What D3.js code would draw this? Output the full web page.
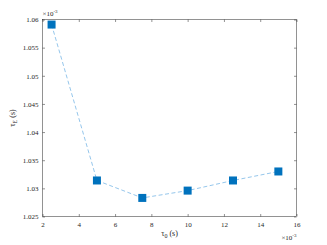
<!DOCTYPE html>
<html>
<head>
<meta charset="utf-8">
<script src="https://cdn.jsdelivr.net/npm/d3@7"></script>
<style>
  body { margin: 0; background: #fff; }
  svg text { font-family: 'Liberation Serif', 'Times New Roman', Times, serif !important; fill: #262626; }
</style>
</head>
<body>
<svg width="327" height="245"></svg>
<script>
// data (x in 1e-3 s, y in 1e-3 s)
const tau0 = [2.5, 5, 7.5, 10, 12.5, 15];
const tauE = [1.0591, 1.0314, 1.0283, 1.0296, 1.0314, 1.0330];
const xTicks = [2, 4, 6, 8, 10, 12, 14, 16];
const yTicks = [1.025, 1.03, 1.035, 1.04, 1.045, 1.05, 1.055, 1.06];

const svg = d3.select('svg');
const m = { left: 42.5, right: 296.5, top: 19.5, bottom: 216.5 };

const x = d3.scaleLinear().domain([2, 16]).range([m.left, m.right]);
const y = d3.scaleLinear().domain([1.025, 1.06]).range([m.bottom, m.top]);

const axisColor = '#262626';
const fs = 7;

// box
svg.append('rect')
  .attr('x', m.left).attr('y', m.top)
  .attr('width', m.right - m.left).attr('height', m.bottom - m.top)
  .attr('fill', 'none').attr('stroke', axisColor).attr('stroke-width', 0.5);

// axes (ticks inside)
const fmtY = (d) => d3.format('.3~f')(d);
svg.append('g')
  .attr('transform', `translate(0,${m.bottom})`)
  .call(d3.axisBottom(x).tickValues(xTicks).tickSizeInner(-2.5).tickSizeOuter(0).tickPadding(6))
  .call((g) => g.select('.domain').remove());
svg.append('g')
  .attr('transform', `translate(0,${m.top})`)
  .call(d3.axisTop(x).tickValues(xTicks).tickSizeInner(-2.5).tickSizeOuter(0).tickFormat(''))
  .call((g) => g.select('.domain').remove());
svg.append('g')
  .attr('transform', `translate(${m.left},0)`)
  .call(d3.axisLeft(y).tickValues(yTicks).tickFormat(fmtY).tickSizeInner(-2.5).tickSizeOuter(0).tickPadding(4))
  .call((g) => g.select('.domain').remove());
svg.append('g')
  .attr('transform', `translate(${m.right},0)`)
  .call(d3.axisRight(y).tickValues(yTicks).tickSizeInner(-2.5).tickSizeOuter(0).tickFormat(''))
  .call((g) => g.select('.domain').remove());

svg.selectAll('g').attr('font-family', null);
svg.selectAll('.tick line').attr('stroke', axisColor).attr('stroke-width', 0.5);
svg.selectAll('.tick text')
  .attr('font-size', fs).attr('fill', axisColor);

// dashed line
const line = d3.line().x((d, i) => x(tau0[i])).y((d) => y(d));
svg.append('path')
  .datum(tauE)
  .attr('d', line)
  .attr('fill', 'none')
  .attr('stroke', '#7ab8e6')
  .attr('stroke-width', 0.8)
  .attr('stroke-dasharray', '4,2.5');

// square markers
const s = 8;
svg.selectAll('rect.pt')
  .data(tauE)
  .enter()
  .append('rect')
  .attr('class', 'pt')
  .attr('x', (d, i) => x(tau0[i]) - s / 2)
  .attr('y', (d) => y(d) - s / 2)
  .attr('width', s)
  .attr('height', s)
  .attr('fill', '#0072bd');

// exponent labels
const topExp = svg.append('text').attr('x', m.left).attr('y', m.top - 4).attr('font-size', fs);
topExp.append('tspan').text('×10');
topExp.append('tspan').attr('dy', -3).attr('font-size', 5).text('-3');

const botExp = svg.append('text').attr('x', m.right).attr('y', 240).attr('font-size', fs).attr('text-anchor', 'end');
botExp.append('tspan').text('×10');
botExp.append('tspan').attr('dy', -3).attr('font-size', 5).text('-3');

// axis labels
const xl = svg.append('text')
  .attr('x', x(9)).attr('y', 236)
  .attr('text-anchor', 'middle').attr('font-size', 8);
xl.append('tspan').text('τ');
xl.append('tspan').attr('dy', 2).attr('font-size', 6).text('0');
xl.append('tspan').attr('dy', -2).text(' (s)');

const yl = svg.append('text')
  .attr('transform', `translate(15,${(m.top + m.bottom) / 2}) rotate(-90)`)
  .attr('text-anchor', 'middle').attr('font-size', 8);
yl.append('tspan').text('τ');
yl.append('tspan').attr('dy', 2).attr('font-size', 6).text('E');
yl.append('tspan').attr('dy', -2).text(' (s)');
</script>
</body>
</html>
